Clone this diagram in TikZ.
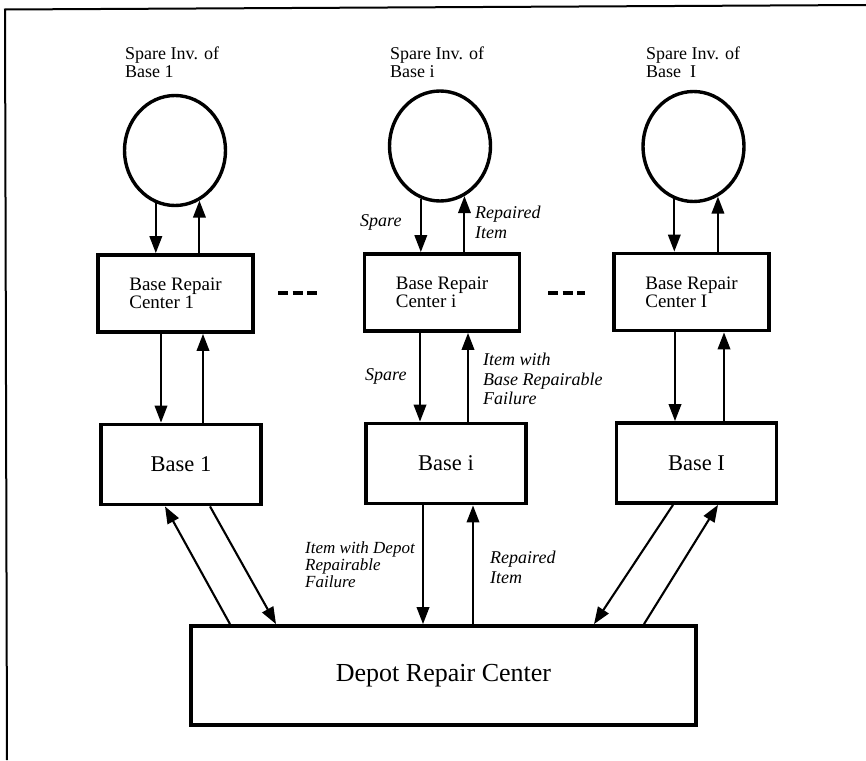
\documentclass[tikz,border=0pt]{standalone}
\usepackage{fontspec}
\setmainfont{Liberation Serif}
\usetikzlibrary{shapes.geometric,arrows.meta}
\begin{document}
\begin{tikzpicture}[x=1pt,y=-1pt,
  inv/.style={ellipse, draw, line width=3.4pt, minimum width=101pt, minimum height=110pt, inner sep=0pt},
  brc/.style={draw, line width=3.8pt, minimum width=155pt, minimum height=77pt, inner sep=0pt, align=left, font=\fontsize{19}{16.5}\selectfont},
  basebox/.style={draw, line width=3.8pt, minimum width=160pt, minimum height=80pt, inner sep=0pt, font=\fontsize{22.5}{24}\selectfont},
  depot/.style={draw, line width=3.8pt, minimum width=505pt, minimum height=99pt, inner sep=0pt, font=\fontsize{26}{28}\selectfont},
  title/.style={anchor=north west, inner sep=0pt, align=left, font=\fontsize{18}{17.5}\selectfont},
  lbl/.style={anchor=north west, inner sep=0pt, align=left, font=\fontsize{18}{19.5}\selectfont\itshape},
  arr/.style={line width=2.1pt, -{Triangle[length=17pt,width=12.5pt]}},
  frameline/.style={line width=2pt},
  gap/.style={line width=3.5pt, dash pattern=on 10pt off 4.5pt}
]
\useasboundingbox (0,0) rectangle (866,760);

% frame
\coordinate (f0) at (5,9.5);
\coordinate (f1) at (866,5);
\coordinate (f2) at (7,760);
\draw[frameline] (f1) -- (f0) -- (f2);

% spare inventories
\node[inv] (c1) at (175,150.5) {};
\node[inv] (ci) at (440,146) {};
\node[inv] (cI) at (693.5,146.5) {};
\node[title] (t1) at (125,47) {Spare Inv. of\\Base 1};
\node[title] (ti) at (390,47) {Spare Inv. of\\Base i};
\node[title] (tI) at (646,47) {Spare Inv. of\\Base\ \ I};

% base repair centers
\node[brc] (b1) at (175.5,293.5) {Base Repair\\Center 1};
\node[brc] (bi) at (442,292.5) {Base Repair\\Center i};
\node[brc] (bI) at (691.5,292) {Base Repair\\Center I};

% bases
\node[basebox] (s1) at (181,464.5) {Base 1};
\node[basebox] (si) at (446,463.5) {Base i};
\node[basebox] (sI) at (696.5,463) {Base I};

% depot
\node[depot] (d) at (443.5,675.5) {Depot Repair Center};

% circle <-> base repair center
\draw[arr] (c1.-110) -- (c1.-110 |- b1.north);
\draw[arr] (c1.-64 |- b1.north) -- (c1.-64);
\draw[arr] (ci.-110) -- (ci.-110 |- bi.north);
\draw[arr] (ci.-64 |- bi.north) -- (ci.-64);
\draw[arr] (cI.-110) -- (cI.-110 |- bI.north);
\draw[arr] (cI.-64 |- bI.north) -- (cI.-64);

% base repair center <-> base
\coordinate (x1a) at (161,0);
\coordinate (x1b) at (203,0);
\coordinate (xia) at (420,0);
\coordinate (xib) at (468,0);
\coordinate (xIa) at (675,0);
\coordinate (xIb) at (724,0);
\draw[arr] (b1.south -| x1a) -- (s1.north -| x1a);
\draw[arr] (s1.north -| x1b) -- (b1.south -| x1b);
\draw[arr] (bi.south -| xia) -- (si.north -| xia);
\draw[arr] (si.north -| xib) -- (bi.south -| xib);
\draw[arr] (bI.south -| xIa) -- (sI.north -| xIa);
\draw[arr] (sI.north -| xIb) -- (bI.south -| xIb);

% base <-> depot
\coordinate (xda) at (423,0);
\coordinate (xdb) at (473,0);
\draw[arr] (si.south -| xda) -- (d.north -| xda);
\draw[arr] (d.north -| xdb) -- (si.south -| xdb);

\coordinate (p1) at (210,0);
\coordinate (q1) at (276,0);
\coordinate (p2) at (230,0);
\coordinate (q2) at (165,0);
\draw[arr] (s1.south -| p1) -- (d.north -| q1);
\draw[arr] (d.north -| p2) -- (s1.south -| q2);

\coordinate (p3) at (673,0);
\coordinate (q3) at (594,0);
\coordinate (p4) at (644,0);
\coordinate (q4) at (718,0);
\draw[arr] (sI.south -| p3) -- (d.north -| q3);
\draw[arr] (d.north -| p4) -- (sI.south -| q4);

% ellipsis dashes
\coordinate (g1a) at (278,293);
\coordinate (g1b) at (317,293);
\coordinate (g2a) at (548,293);
\coordinate (g2b) at (585,293);
\draw[gap] (g1a) -- (g1b);
\draw[gap] (g2a) -- (g2b);

% labels
\node[lbl] (l1) at (360,214) {Spare};
\node[lbl] (l2) at (475,206) {Repaired\\Item};
\node[lbl] (l3) at (365,368) {Spare};
\node[lbl] (l4) at (483,353) {Item with\\Base Repairable\\Failure};
\node[lbl, font=\fontsize{17}{17}\selectfont\itshape] (l5) at (305,541) {Item with Depot\\Repairable\\Failure};
\node[lbl] (l6) at (490,551) {Repaired\\Item};
\end{tikzpicture}
\end{document}
